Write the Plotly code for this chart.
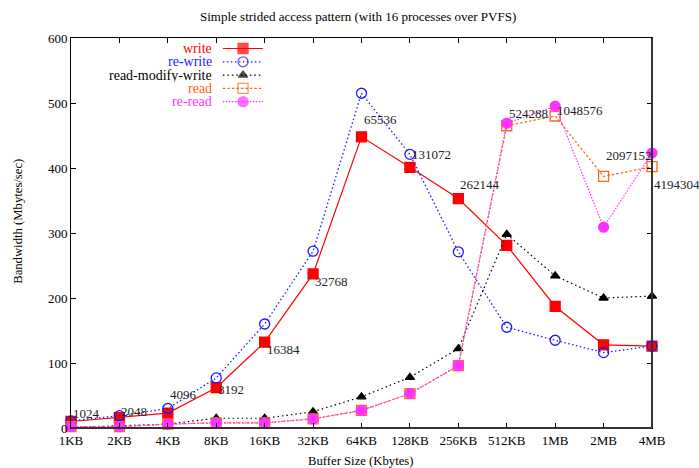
import plotly.graph_objects as go

categories = ["1KB", "2KB", "4KB", "8KB", "16KB", "32KB", "64KB", "128KB", "256KB", "512KB", "1MB", "2MB", "4MB"]
write = [10, 16, 23, 62, 132, 237, 448, 401, 353, 281, 187, 128, 126]
rewrite = [11, 19, 30, 77, 160, 272, 515, 421, 271, 155, 135, 116, 126]
rmw = [1, 3, 6, 15, 15, 25, 48, 78, 122, 298, 234, 200, 203]
read = [2, 2, 6, 8, 8, 14, 27, 53, 96, 465, 480, 387, 402]
reread = [2, 2, 6, 8, 8, 14, 27, 53, 96, 469, 495, 309, 423]
point_labels = ["1024", "2048", "4096", "8192", "16384", "32768", "65536", "131072", "262144", "524288", "1048576", "2097152", "4194304"]
label_y = [23, 25, 51, 60, 121, 225, 475, 421, 375, 484, 489, 420, 375]

FONT = "Liberation Serif, Times New Roman, serif"

series = [
    ("write", write, "#ff0000", "solid", "square", 10, 1.2),
    ("re-write", rewrite, "#1a1aff", "1.5px,2.5px", "circle-open", 10, 1.3),
    ("read-modify-write", rmw, "#000000", "1.5px,3px", "triangle-up", 8, 1.2),
    ("read", read, "#ff6619", "2.5px,2px", "square-open", 10, 1.2),
    ("re-read", reread, "#ff33ff", "1.5px,1.5px", "circle", 10, 1.2),
]

fig = go.Figure()
for name, vals, color, dash, sym, size, lw in series:
    fig.add_trace(go.Scatter(
        x=categories, y=vals, mode="lines+markers", name=name,
        line=dict(color=color, width=lw, dash=dash),
        marker=dict(symbol=sym, size=size, color=color, line=dict(color=color, width=1.3)),
        cliponaxis=False, showlegend=False,
    ))

# custom gnuplot-style legend (text on the left, sample on the right)
ann = []
row_y = [0.9731, 0.9390, 0.9049, 0.8708, 0.8367]
for (name, vals, color, dash, sym, size, lw), ry in zip(series, row_y):
    fig.add_trace(go.Scatter(
        x=[0.2614, 0.2961, 0.3303], y=[ry, ry, ry], xaxis="x2", yaxis="y2",
        mode="lines+markers",
        line=dict(color=color, width=lw, dash=dash),
        marker=dict(symbol=sym, size=[0, size, 0], color=color, line=dict(color=color, width=1.3)),
        showlegend=False, hoverinfo="skip", cliponaxis=False,
    ))
    ann.append(dict(x=0.2469, y=ry, xref="paper", yref="paper", text=name, showarrow=False,
                    xanchor="right", yanchor="middle", height=13,
                    font=dict(family=FONT, size=14, color=color)))

for c, t, ly in zip(categories, point_labels, label_y):
    ann.append(dict(x=c, y=ly, xref="x", yref="y", text=t, showarrow=False,
                    xanchor="left", yanchor="middle", font=dict(family=FONT, size=13, color="#222222")))

ann.append(dict(x=0.4942, y=1.0564, xref="paper", yref="paper", showarrow=False,
                text="Simple strided access pattern (with 16 processes over PVFS)",
                xanchor="center", yanchor="middle", font=dict(family=FONT, size=13, color="#000000")))
ann.append(dict(x=0.4977, y=-0.084, xref="paper", yref="paper", showarrow=False,
                text="Buffer Size (Kbytes)", xanchor="center", yanchor="middle",
                font=dict(family=FONT, size=12.7, color="#000000")))
ann.append(dict(x=-0.0915, y=0.5308, xref="paper", yref="paper", showarrow=False, textangle=-90,
                text="Bandwidth (Mbytes/sec)", xanchor="center", yanchor="middle",
                font=dict(family=FONT, size=12.7, color="#000000")))

fig.update_layout(
    width=699, height=468,
    margin=dict(l=70.7, r=47, t=38, b=40),
    paper_bgcolor="white", plot_bgcolor="white",
    font=dict(family=FONT, size=13, color="#000000"),
    annotations=ann,
    xaxis=dict(type="category", categoryorder="array", categoryarray=categories,
               range=[0, 12], showgrid=False, zeroline=False,
               showline=True, linecolor="#000000", linewidth=1, mirror="ticks",
               ticks="inside", ticklen=5, tickcolor="#000000",
               tickfont=dict(family=FONT, size=13)),
    yaxis=dict(range=[0, 600], tickvals=[0, 100, 200, 300, 400, 500, 600],
               showgrid=False, zeroline=False,
               showline=True, linecolor="#000000", linewidth=1, mirror="ticks",
               ticks="inside", ticklen=5, tickcolor="#000000",
               tickfont=dict(family=FONT, size=13)),
    xaxis2=dict(overlaying="x", range=[0, 1], visible=False, fixedrange=True),
    yaxis2=dict(overlaying="y", range=[0, 1], visible=False, fixedrange=True),
    shapes=[
        dict(type="line", xref="paper", yref="paper", x0=1, x1=1, y0=0, y1=1,
             line=dict(color="#333333", width=2)),
        dict(type="line", xref="paper", yref="paper", x0=0, x1=1, y0=0, y1=0,
             line=dict(color="#333333", width=2)),
    ],
)

fig.write_html("out.html")
